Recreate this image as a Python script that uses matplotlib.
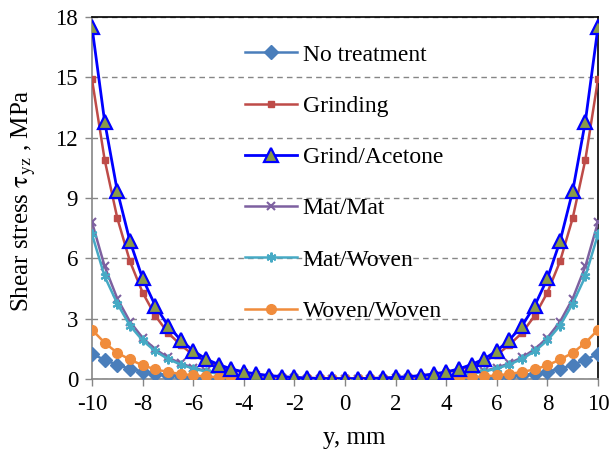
import matplotlib
matplotlib.use("Agg")
import matplotlib.pyplot as plt

plt.rcParams['font.family'] = ['Liberation Serif', 'DejaVu Serif']
plt.rcParams['mathtext.fontset'] = 'stix'

y_mm = [-10, -9.5, -9, -8.5, -8, -7.5, -7, -6.5, -6, -5.5, -5, -4.5, -4, -3.5, -3, -2.5, -2, -1.5, -1, -0.5,
        0, 0.5, 1, 1.5, 2, 2.5, 3, 3.5, 4, 4.5, 5, 5.5, 6, 6.5, 7, 7.5, 8, 8.5, 9, 9.5, 10]

no_treatment = [1.25, 0.95, 0.7, 0.51, 0.37, 0.27, 0.19, 0.14, 0.1, 0.07, 0.05, 0.03, 0.02, 0.01, 0.0, -0.01,
                -0.02, -0.03, -0.03, -0.03, -0.03, -0.03, -0.03, -0.03, -0.02, -0.01, 0.0, 0.01, 0.02, 0.03,
                0.05, 0.07, 0.1, 0.14, 0.19, 0.27, 0.37, 0.51, 0.7, 0.95, 1.25]
grinding = [14.9, 10.9, 8.0, 5.85, 4.3, 3.15, 2.3, 1.7, 1.2, 0.88, 0.64, 0.46, 0.33, 0.23, 0.16, 0.11, 0.07,
            0.04, 0.02, 0.01, 0.0, 0.01, 0.02, 0.04, 0.07, 0.11, 0.16, 0.23, 0.33, 0.46, 0.64, 0.88, 1.2,
            1.7, 2.3, 3.15, 4.3, 5.85, 8.0, 10.9, 14.9]
grind_acetone = [17.5, 12.8, 9.35, 6.85, 5.0, 3.65, 2.65, 1.95, 1.4, 1.0, 0.72, 0.5, 0.35, 0.25, 0.17, 0.12,
                 0.08, 0.05, 0.03, 0.02, 0.02, 0.02, 0.03, 0.05, 0.08, 0.12, 0.17, 0.25, 0.35, 0.5, 0.72,
                 1.0, 1.4, 1.95, 2.65, 3.65, 5.0, 6.85, 9.35, 12.8, 17.5]
mat_mat = [7.8, 5.6, 4.0, 2.85, 2.05, 1.48, 1.07, 0.78, 0.56, 0.4, 0.29, 0.2, 0.14, 0.1, 0.07, 0.05, 0.03,
           0.02, 0.01, 0.0, 0.0, 0.0, 0.01, 0.02, 0.03, 0.05, 0.07, 0.1, 0.14, 0.2, 0.29, 0.4, 0.56, 0.78,
           1.07, 1.48, 2.05, 2.85, 4.0, 5.6, 7.8]
mat_woven = [7.2, 5.1, 3.75, 2.65, 1.92, 1.38, 1.0, 0.72, 0.52, 0.37, 0.26, 0.18, 0.13, 0.09, 0.06, 0.04,
             0.03, 0.02, 0.01, 0.0, 0.0, 0.0, 0.01, 0.02, 0.03, 0.04, 0.06, 0.09, 0.13, 0.18, 0.26, 0.37,
             0.52, 0.72, 1.0, 1.38, 1.92, 2.65, 3.75, 5.1, 7.2]
woven_woven = [2.45, 1.8, 1.3, 0.97, 0.68, 0.48, 0.35, 0.25, 0.18, 0.13, 0.09, 0.06, 0.04, 0.03, 0.02, 0.01,
               0.0, -0.01, -0.02, -0.02, -0.02, -0.02, -0.02, -0.01, 0.0, 0.01, 0.02, 0.03, 0.04, 0.06,
               0.09, 0.13, 0.18, 0.25, 0.35, 0.48, 0.68, 0.97, 1.3, 1.8, 2.45]

x_ticks = [-10, -8, -6, -4, -2, 0, 2, 4, 6, 8, 10]
y_ticks = [0, 3, 6, 9, 12, 15, 18]

fig = plt.figure(figsize=(6.09, 4.53), dpi=100)
ax = fig.add_axes([92/609, 1 - 379/453, (598-92)/609, (379-17)/453])

ax.plot(y_mm, no_treatment, color='#4A7EBB', lw=1.8, marker='D', ms=7, label='No treatment', zorder=3)
ax.plot(y_mm, grinding, color='#BE4B48', lw=1.8, marker='s', ms=5, label='Grinding', zorder=4)
ax.plot(y_mm, grind_acetone, color='#0000FF', lw=2.0, marker='^', ms=10, mfc='#8A9A48', mec='#0000FF',
        mew=1.6, label='Grind/Acetone', zorder=5)
ax.plot(y_mm, mat_mat, color='#7D60A0', lw=1.8, marker='x', ms=6, mew=1.5, label='Mat/Mat', zorder=3)
ax.plot(y_mm, mat_woven, color='#46AAC5', lw=1.8, marker=(6, 2, 0), ms=7, mew=1.5, label='Mat/Woven', zorder=3)
ax.plot(y_mm, woven_woven, color='#F08C3C', lw=1.8, marker='o', ms=7, label='Woven/Woven', zorder=3)

ax.set_xlim(-10, 10)
ax.set_ylim(0, 18)
ax.set_xticks(x_ticks)
ax.set_yticks(y_ticks)
ax.set_xticklabels([str(t) for t in x_ticks])
ax.set_yticklabels([str(t) for t in y_ticks])
ax.tick_params(labelsize=16.5, colors='#000000', length=5, width=1, direction='out')
ax.tick_params(axis='x', pad=6)
ax.tick_params(axis='y', pad=5)
ax.tick_params(axis='both', color='#868686')
ax.yaxis.grid(True, linestyle=(0, (4, 3)), color='#868686', lw=1)
ax.set_axisbelow(True)
for side in ['left', 'bottom']:
    ax.spines[side].set_color('#868686')
    ax.spines[side].set_linewidth(1.2)
for side in ['top', 'right']:
    ax.spines[side].set_color('#000000')
    ax.spines[side].set_linewidth(1.2)

ax.set_xlabel('y, mm', fontsize=18, va='center', ha='center')
ax.set_ylabel(r'Shear stress $\mathrm{\tau_{yz}}$ , MPa', fontsize=18, va='center', ha='center')
ax.xaxis.set_label_coords((354-92)/506, -(438-379)/362)
ax.yaxis.set_label_coords(-(92-24)/506, (379-201)/362)

leg = ax.legend(loc='upper left', bbox_to_anchor=((245-92)/506, 1 - (44-17)/362), frameon=False,
                fontsize=17, labelspacing=1.26, handlelength=2.2, handletextpad=0.25, borderaxespad=0,
                borderpad=0)

fig.savefig('out.png', dpi=100, facecolor='white')
